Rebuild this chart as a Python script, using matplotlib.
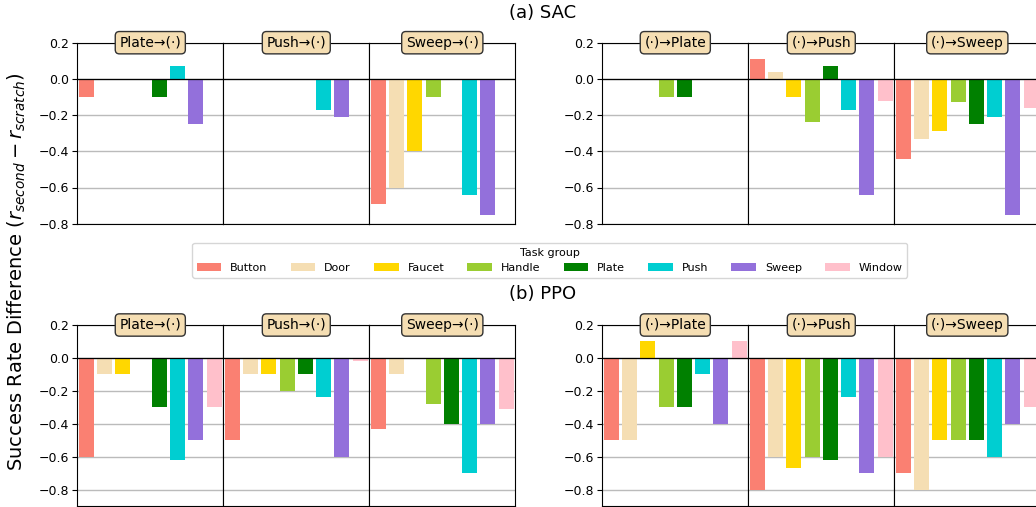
import matplotlib
matplotlib.use('Agg')
import matplotlib.pyplot as plt
from matplotlib.patches import Patch
import numpy as np

tasks = ['Button', 'Door', 'Faucet', 'Handle', 'Plate', 'Push', 'Sweep', 'Window']
colores = ['salmon', 'wheat', 'gold', 'yellowgreen', 'green', 'darkturquoise', 'mediumpurple', 'pink']

grupos_desde = ['Plate→(·)', 'Push→(·)', 'Sweep→(·)']
grupos_hacia = ['(·)→Plate', '(·)→Push', '(·)→Sweep']

# SAC, primera tarea fija
sac_desde_plate = [-0.10, 0.0, 0.0, 0.0, -0.10, 0.07, -0.25, 0.0]
sac_desde_push = [0.0, 0.0, 0.0, 0.0, 0.0, -0.17, -0.21, 0.0]
sac_desde_sweep = [-0.69, -0.60, -0.40, -0.10, 0.0, -0.64, -0.75, 0.0]
# SAC, segunda tarea fija
sac_hacia_plate = [0.0, 0.0, 0.0, -0.10, -0.10, 0.0, 0.0, 0.0]
sac_hacia_push = [0.11, 0.04, -0.10, -0.24, 0.07, -0.17, -0.64, -0.12]
sac_hacia_sweep = [-0.44, -0.33, -0.29, -0.13, -0.25, -0.21, -0.75, -0.16]

# PPO, primera tarea fija
ppo_desde_plate = [-0.60, -0.10, -0.10, 0.0, -0.30, -0.62, -0.50, -0.30]
ppo_desde_push = [-0.50, -0.10, -0.10, -0.20, -0.10, -0.24, -0.60, -0.02]
ppo_desde_sweep = [-0.43, -0.10, 0.0, -0.28, -0.40, -0.70, -0.40, -0.31]
# PPO, segunda tarea fija
ppo_hacia_plate = [-0.50, -0.50, 0.10, -0.30, -0.30, -0.10, -0.40, 0.10]
ppo_hacia_push = [-0.80, -0.60, -0.67, -0.60, -0.62, -0.24, -0.70, -0.60]
ppo_hacia_sweep = [-0.70, -0.80, -0.50, -0.50, -0.50, -0.60, -0.40, -0.30]

W, H = 1036, 507
fig = plt.figure(figsize=(W / 100, H / 100), dpi=100)

ancho = 146 / W
alto = 181 / H
filas = [
    (1 - 223.7 / H, (-0.8, 0.2),
     [(sac_desde_plate, sac_desde_push, sac_desde_sweep),
      (sac_hacia_plate, sac_hacia_push, sac_hacia_sweep)]),
    (1 - 506 / H, (-0.9, 0.2),
     [(ppo_desde_plate, ppo_desde_push, ppo_desde_sweep),
      (ppo_hacia_plate, ppo_hacia_push, ppo_hacia_sweep)]),
]
x0s = [77.3 / W, 602.3 / W]
titulos = [grupos_desde, grupos_hacia]

x = np.arange(len(tasks))
for y0, ylims, bloques in filas:
    for x0, datos, tits in zip(x0s, bloques, titulos):
        for i, (vals, tit) in enumerate(zip(datos, tits)):
            ax = fig.add_axes([x0 + i * ancho, y0, ancho, alto])
            ax.set_axisbelow(True)
            ax.yaxis.grid(True, color='#bbbbbb', linewidth=1)
            ax.bar(x, vals, width=0.82, color=colores, zorder=2)
            ax.axhline(0, color='black', linewidth=0.9, zorder=3)
            ax.set_xlim(-0.5, 7.5)
            ax.set_ylim(*ylims)
            ax.set_yticks([-0.8, -0.6, -0.4, -0.2, 0.0, 0.2])
            ax.set_xticks([])
            ax.tick_params(axis='y', labelsize=9, pad=2.5)
            if i > 0:
                ax.tick_params(axis='y', left=False, labelleft=False)
            ax.text(0.5, 1.0, tit, transform=ax.transAxes, ha='center', va='center',
                    fontsize=10, zorder=10,
                    bbox=dict(boxstyle='round,pad=0.3', facecolor='wheat', edgecolor='#333333'))

fig.text(543 / W, 1 - 13 / H, '(a) SAC', ha='center', va='center', fontsize=13)
fig.text(543 / W, 1 - 294 / H, '(b) PPO', ha='center', va='center', fontsize=13)
fig.text(17 / W, 1 - 272 / H, r'Success Rate Difference ($r_{second} - r_{scratch}$)',
         rotation=90, ha='center', va='center', fontsize=14)

manijas = [Patch(facecolor=c, label=t) for t, c in zip(tasks, colores)]
fig.legend(handles=manijas, loc='center', bbox_to_anchor=(549.6 / W, 1 - 260.4 / H),
           ncol=8, fontsize=8, title='Task group', title_fontsize=8,
           handlelength=2.2, columnspacing=2.1)

fig.savefig('out.png', dpi=100)
